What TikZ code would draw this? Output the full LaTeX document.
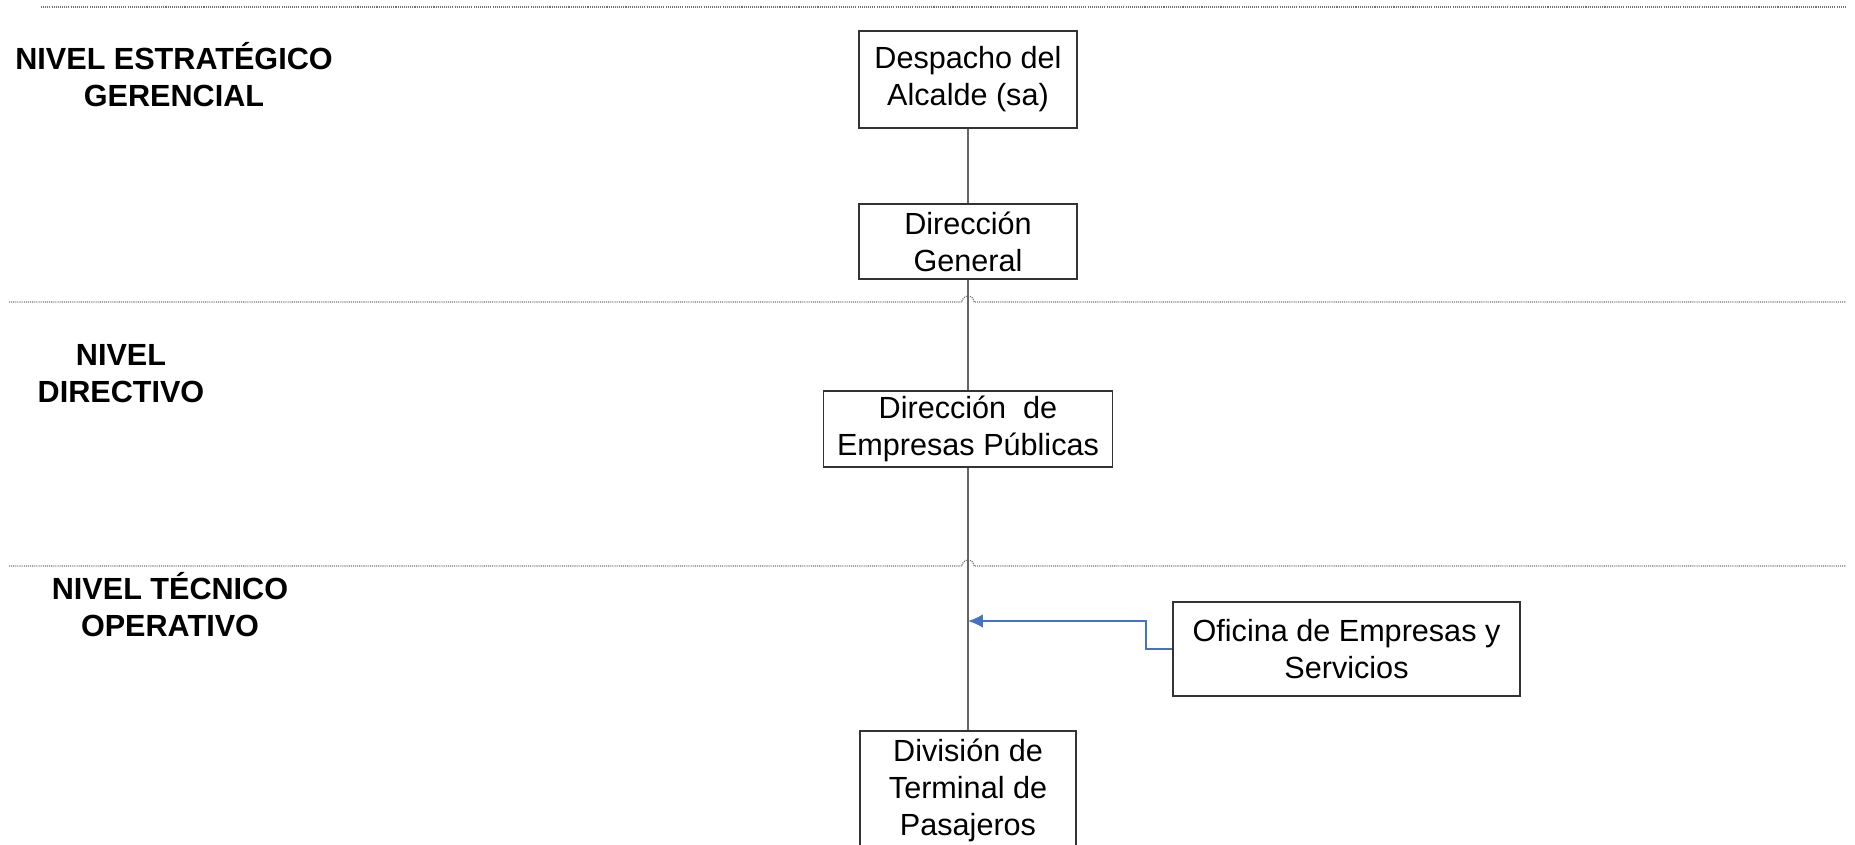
\documentclass[tikz,border=0pt]{standalone}
\usepackage{fontspec}
\setmainfont{Liberation Sans}
\usetikzlibrary{positioning,arrows.meta}
\definecolor{azul}{HTML}{4472C4}
\tikzset{
    caja/.style={draw=black!80, line width=0.45pt, align=center, inner sep=0pt},
    nivel/.style={font=\bfseries, align=center},
    linea/.style={draw=black!60, line width=0.5pt},
    separa/.style={draw=black!55, line width=0.35pt, dash pattern=on 0.3pt off 0.3pt},
    flecha/.style={draw=azul, line width=0.45pt, -{Latex[length=4.2pt,width=3.8pt]}},
}

\begin{document}
\begin{tikzpicture}[x=0.01cm,y=-0.01cm]
                \fontsize{8.7}{10.5}\selectfont
                \useasboundingbox (0,0) rectangle (1855,844);

                \draw[separa] (41,7) -- (1846,7);
                \foreach \y in {302,566} {
                    \draw[separa] (9,\y) -- (962,\y) arc[start angle=180,end angle=360,radius=6] -- (1846,\y);
                }

                \node[nivel] (nivelA) at (174,75) {NIVEL ESTRATÉGICO\\GERENCIAL};
                \node[nivel] (nivelB) at (121,374) {NIVEL\\DIRECTIVO};
                \node[nivel] (nivelC) at (170,605) {NIVEL TÉCNICO\\OPERATIVO};

                \node[caja, minimum width=2.18cm, minimum height=0.97cm] (despacho) at (968,79.5) {Despacho del\\Alcalde (sa)};
                \node[caja, minimum width=2.18cm, minimum height=0.75cm] (dirgen) at (968,241.5) {Dirección\\General};
                \node[caja, minimum width=2.89cm, minimum height=0.76cm] (dirempresas) at (968,429) {Dirección~~de\\Empresas Públicas};
                \node[caja, minimum width=2.16cm, minimum height=1.18cm] (division) at (968,790) {División de\\Terminal de\\Pasajeros};
                \node[caja, minimum width=3.47cm, minimum height=0.94cm] (oficina) at (1346.5,649) {Oficina de Empresas y\\Servicios};
                \coordinate (junta) at (968,621);

                \draw[linea] (despacho) -- (dirgen);
                \draw[linea] (dirgen) -- (dirempresas);
                \draw[linea] (dirempresas) -- (division);
                \draw[flecha] (oficina.west) -- ++(-26,0) |- (junta);
            \end{tikzpicture}
\end{document}
